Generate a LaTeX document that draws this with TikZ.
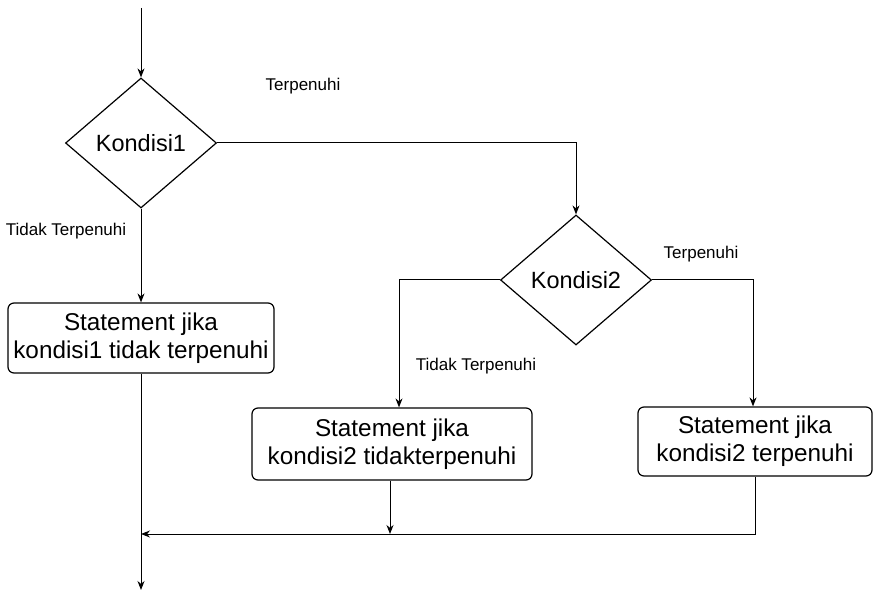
\documentclass[tikz,border=0pt]{standalone}
\usepackage{fontspec}
\setmainfont{Liberation Sans}
\usetikzlibrary{shapes.geometric,arrows.meta}
\begin{document}
\begin{tikzpicture}[x=1pt,y=-1pt,
  line width=1.2pt,
  conn/.style={draw,line width=1pt,-{Stealth[length=9pt,width=7pt]}},
  cond/.style={draw,diamond,aspect=1.16,minimum width=151pt,minimum height=130pt,inner sep=0pt,font=\fontsize{23.5}{28}\selectfont},
  stmt/.style={draw,rounded corners=6pt,align=center,inner sep=0pt,font=\fontsize{24.3}{28}\selectfont},
  lbl/.style={font=\fontsize{17}{20}\selectfont,inner sep=0pt}]
\useasboundingbox (0,0) rectangle (873,601);
\coordinate (top) at (141,8);
\node[cond] (d1) at (141,143) {Kondisi1};
\node[cond] (d2) at (576,280) {Kondisi2};
\node[stmt,minimum width=266pt,minimum height=70pt] (b1) at (141,338) {Statement jika\\kondisi1 tidak terpenuhi};
\node[stmt,minimum width=280pt,minimum height=72pt] (b2) at (392,444) {Statement jika\\kondisi2 tidakterpenuhi};
\node[stmt,minimum width=234pt,minimum height=69pt] (b3) at (755,441.5) {Statement jika\\kondisi2 terpenuhi};
\coordinate (bot) at (141,590);
\coordinate (j) at (141,534);
\coordinate (l2) at (399,280);
\coordinate (r2) at (753,280);
\coordinate (r1) at (576,143);
\node[lbl] (t1) at (303,86) {Terpenuhi};
\node[lbl] (t2) at (701,254) {Terpenuhi};
\node[lbl] (n1) at (66,231) {Tidak Terpenuhi};
\node[lbl] (n2) at (476,366) {Tidak Terpenuhi};
\draw[conn] (top) -- (d1.north);
\draw[conn] (d1.east) -- (r1) -- (d2.north);
\draw[conn] (d1.south) -- (b1.north);
\draw[conn] (b1.south) -- (bot);
\draw[conn] (d2.west) -- (l2) -- (l2 |- b2.north);
\draw[conn] (d2.east) -- (r2) -- (r2 |- b3.north);
\draw[conn] ([xshift=-2pt]b2.south) -- ([xshift=-2pt]b2.south |- j);
\draw[conn] (b3.south) -- (b3.south |- j) -- (j);
\end{tikzpicture}
\end{document}
